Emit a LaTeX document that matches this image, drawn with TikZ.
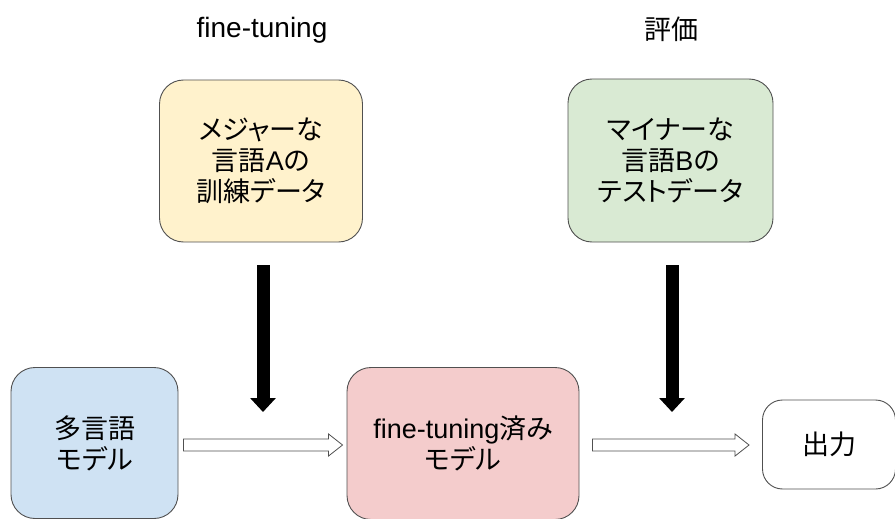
\documentclass[tikz,border=0pt]{standalone}
\usepackage{fontspec}
\setmainfont{Liberation Sans}
\newfontfamily\jp[RawFeature=+palt]{Noto Sans CJK JP}
\newfontfamily\lat{Liberation Sans}
\usetikzlibrary{arrows.meta,calc}
\definecolor{cYellow}{HTML}{FFF2CC}
\definecolor{cGreen}{HTML}{D9EAD3}
\definecolor{cBlue}{HTML}{CFE2F3}
\definecolor{cPink}{HTML}{F4CCCC}
\definecolor{cBorder}{HTML}{505050}
\newcommand\HollowArrow[2]{%
  \draw[hollowarrow] ($(#1)+(0,-6)$) -- ($(#2)+(-14,-6)$) -- ($(#2)+(-14,-11)$) -- (#2)
    -- ($(#2)+(-14,11)$) -- ($(#2)+(-14,6)$) -- ($(#1)+(0,6)$) -- cycle;}
\begin{document}
\begin{tikzpicture}[x=1pt,y=-1pt,
  box/.style={draw=cBorder, line width=0.9pt, rounded corners=24pt, align=center,
    font=\jp\fontsize{27}{31}\selectfont, inner sep=0pt},
  titletext/.style={font=\fontsize{28}{32}\selectfont, inner sep=0pt},
  hollowarrow/.style={draw=cBorder, line width=0.8pt, fill=white, line join=miter},
  blackarrow/.style={line width=13pt, -{Triangle[width=25pt,length=14pt]}}]
\useasboundingbox (0,0) rectangle (895,519);

\node[titletext] (tA) at (262,30) {fine-tuning};
\node[titletext, font=\jp\fontsize{27}{32}\selectfont] (tB) at (671,29) {評価};

\node[box, fill=cYellow, minimum width=203pt, minimum height=162pt] (ya) at (261,161)
  {メジャーな\\言語{\lat A}の\\訓練データ};
\node[box, fill=cGreen, minimum width=205pt, minimum height=163pt] (gb) at (670.5,160.5)
  {マイナーな\\言語{\lat B}の\\テストデータ};

\node[box, fill=cBlue, minimum width=167pt, minimum height=151pt] (blue) at (94.5,443)
  {多言語\\モデル};
\node[box, fill=cPink, minimum width=232pt, minimum height=152pt] (pink) at (463,443.5)
  {{\lat fine-tuning}済み\\モデル};
\node[box, fill=white, rounded corners=20pt, minimum width=133pt, minimum height=89pt] (out) at (829,444.5)
  {出力};

\coordinate (t1) at (263,412);
\coordinate (t2) at (672,412);
\draw[blackarrow] ([xshift=2pt,yshift=-23pt]ya.south) -- (t1);
\draw[blackarrow] ([xshift=1.5pt,yshift=-23pt]gb.south) -- (t2);

\coordinate (a1) at ($(blue.east |- pink.west)+(5,1.5)$);
\coordinate (b1) at ($(pink.west)+(-4,1.5)$);
\coordinate (a2) at ($(pink.east)+(13,1.5)$);
\coordinate (b2) at ($(out.west |- pink.east)+(-13,1.5)$);
\HollowArrow{a1}{b1}
\HollowArrow{a2}{b2}
\end{tikzpicture}
\end{document}
